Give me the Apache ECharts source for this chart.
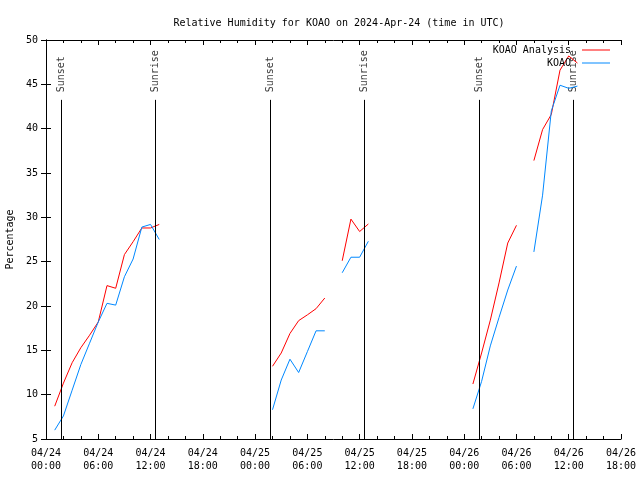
<!DOCTYPE html>
<html><head><meta charset="utf-8">
<script src="https://cdn.jsdelivr.net/npm/echarts@6/dist/echarts.min.js"></script>
<style>html,body{margin:0;padding:0;background:#fff}#c{width:640px;height:480px}</style>
</head><body><div id="c"></div>
<script>
// hours since 2024-04-24 00:00 UTC
const hours = [1,2,3,4,5,6,7,8,9,10,11,12,13,
  26,27,28,29,30,31,32, 34,35,36,37,
  49,50,51,52,53,54, 56,57,58,59,60,61];
const analysis = [8.7,11.3,13.6,15.3,16.7,18.2,22.3,22.0,25.8,27.25,28.8,28.8,29.2,
  13.2,14.7,16.9,18.35,19.0,19.7,20.9, 25.1,29.8,28.4,29.25,
  11.2,14.7,18.4,22.6,27.1,29.1, 36.4,39.9,41.6,46.6,48.2,47.4];
const observed = [6.0,7.6,10.5,13.4,15.8,18.2,20.3,20.1,23.3,25.3,28.9,29.2,27.5,
  8.3,11.65,14.0,12.5,14.85,17.2,17.2, 23.75,25.5,25.5,27.3,
  8.4,11.5,15.5,18.7,21.8,24.5, 26.1,32.5,42.0,44.9,44.55,44.8];
const sunsetHours = [1.76, 25.75, 49.74];
const sunriseHours = [12.55, 36.54, 60.53];
const xTickLabels = ['04/24\n00:00','04/24\n06:00','04/24\n12:00','04/24\n18:00',
  '04/25\n00:00','04/25\n06:00','04/25\n12:00','04/25\n18:00',
  '04/26\n00:00','04/26\n06:00','04/26\n12:00','04/26\n18:00'];
const seriesNames = ['KOAO Analysis', 'KOAO'];

const FONT = 'DejaVu Sans Mono';
function build(vals){
  const out = [];
  for (let i = 0; i < hours.length; i++) {
    if (i > 0 && hours[i] - hours[i-1] > 1) out.push([hours[i] - 0.5, '-']);
    out.push([hours[i], vals[i]]);
  }
  return out;
}
const events = [];
sunsetHours.forEach(h => events.push({name:'Sunset', h}));
sunriseHours.forEach(h => events.push({name:'Sunrise', h}));

const tickStyle = {show:true, inside:true, length:5, lineStyle:{color:'#000', width:1}};
const minorStyle = {show:true, splitNumber:3, length:3, lineStyle:{color:'#000', width:1}};
const axisLine = {show:true, lineStyle:{color:'#000', width:1}};
const legendBase = {right:30, padding:0, orient:'vertical', align:'right', icon:'rect', itemWidth:28, itemHeight:1,
  textStyle:{fontFamily:FONT, fontSize:10, color:'#000', padding:[0,6,0,0]}};

const chart = echarts.init(document.getElementById('c'), null, {renderer:'canvas'});
chart.setOption({
  animation:false,
  backgroundColor:'#fff',
  textStyle:{fontFamily:FONT, color:'#000'},
  title:{text:'Relative Humidity for KOAO on 2024-Apr-24 (time in UTC)', left:334, top:13, textAlign:'center',
    textStyle:{fontFamily:FONT, fontSize:10, fontWeight:'normal', color:'#000'}},
  legend:[
    Object.assign({}, legendBase, {data:[seriesNames[0]], top:45}),
    Object.assign({}, legendBase, {data:[seriesNames[1]], top:58})
  ],
  grid:{left:46, right:19, top:40, bottom:41, containLabel:false, outerBoundsMode:'none'},
  xAxis:[
    {type:'value', min:0, max:66, interval:6, axisLine, axisTick:tickStyle, minorTick:minorStyle,
     splitLine:{show:false},
     axisLabel:{formatter:v => xTickLabels[Math.round(v/6)], fontFamily:FONT, fontSize:10, lineHeight:13, color:'#000', margin:8, showMaxLabel:true, showMinLabel:true}},
    {type:'value', position:'top', min:0, max:66, interval:6, axisLine, axisTick:tickStyle, minorTick:minorStyle,
     splitLine:{show:false}, axisLabel:{show:false}}
  ],
  yAxis:[
    {type:'value', min:5, max:50, interval:5, axisLine, axisTick:tickStyle, splitLine:{show:false},
     name:'Percentage', nameLocation:'middle', nameGap:31, nameRotate:90,
     nameTextStyle:{fontFamily:FONT, fontSize:10, color:'#000'},
     axisLabel:{fontFamily:FONT, fontSize:10, color:'#000', margin:8}},
    {type:'value', position:'right', min:5, max:50, interval:5, axisLine, axisTick:tickStyle, splitLine:{show:false}, axisLabel:{show:false}}
  ],
  series:[
    {name:'events', type:'scatter', symbolSize:0, silent:true, z:1,
     data: events.map(e => ({name:e.name, value:[e.h, 44.1]})),
     label:{show:true, formatter:p => p.data.name, rotate:90, position:[0,0], align:'left', verticalAlign:'middle',
       fontFamily:FONT, fontSize:10, color:'#000'},
     markLine:{silent:true, symbol:'none', animation:false, label:{show:false},
       lineStyle:{color:'#000', width:1, type:'solid'},
       data: events.map(e => [{coord:[e.h, 5]}, {coord:[e.h, 43.25]}])}
    },
    {name:seriesNames[0], type:'line', symbol:'none', color:'#ff0000', lineStyle:{width:1, color:'#ff0000'},
     connectNulls:false, data:build(analysis), z:3},
    {name:seriesNames[1], type:'line', symbol:'none', color:'#0088ff', lineStyle:{width:1, color:'#0088ff'},
     connectNulls:false, data:build(observed), z:3}
  ]
});
</script></body></html>
